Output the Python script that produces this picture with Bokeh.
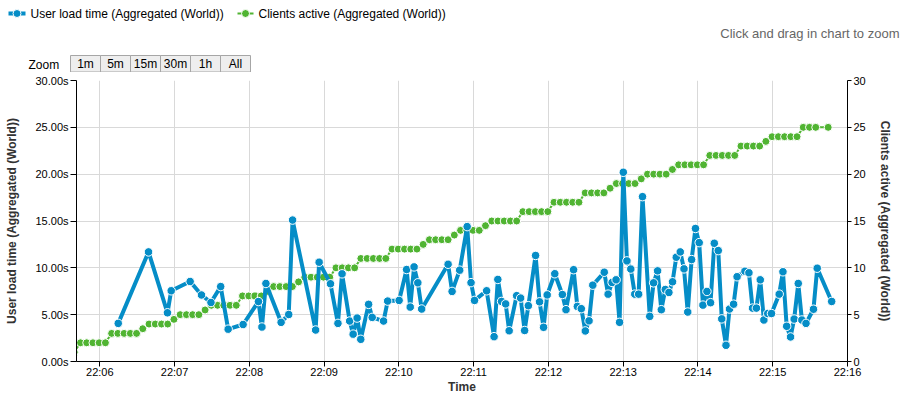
import pandas as pd
from bokeh.plotting import figure
from bokeh.layouts import column
from bokeh.models import (Range1d, LinearAxis, PrintfTickFormatter, DatetimeTickFormatter,
                          SingleIntervalTicker, FixedTicker, ColumnDataSource)
from bokeh.core.properties import value
from bokeh.embed import file_html
from bokeh.resources import INLINE

# ---------------- data ----------------
DAY = "2013-05-14 "

load_times = [
    "22:06:14.8", "22:06:39.1", "22:06:54.3", "22:06:57.3", "22:07:12.5", "22:07:21.6",
    "22:07:29.2", "22:07:37.0", "22:07:43.0", "22:07:55.0", "22:08:07.3", "22:08:10.1",
    "22:08:13.3", "22:08:25.5", "22:08:31.6", "22:08:34.7", "22:08:53.2", "22:08:56.0",
    "22:09:05.1", "22:09:11.1", "22:09:14.4", "22:09:20.5", "22:09:23.3", "22:09:26.5",
    "22:09:29.4", "22:09:35.7", "22:09:38.6", "22:09:47.7", "22:09:51.0", "22:10:00.2",
    "22:10:06.2", "22:10:09.1", "22:10:12.2", "22:10:15.2", "22:10:18.3", "22:10:39.5",
    "22:10:42.7", "22:10:48.8", "22:10:54.8", "22:10:57.9", "22:11:00.7", "22:11:10.4",
    "22:11:16.4", "22:11:19.4", "22:11:22.4", "22:11:25.7", "22:11:28.5", "22:11:34.5",
    "22:11:37.7", "22:11:40.9", "22:11:43.9", "22:11:49.7", "22:11:52.9", "22:11:56.1",
    "22:11:59.0", "22:12:05.1", "22:12:11.2", "22:12:14.1", "22:12:20.2", "22:12:23.2",
    "22:12:26.4", "22:12:29.6", "22:12:32.6", "22:12:35.6", "22:12:44.8", "22:12:47.9",
    "22:12:51.1", "22:12:54.3", "22:12:57.1", "22:13:00.1", "22:13:03.0", "22:13:06.1",
    "22:13:09.3", "22:13:12.4", "22:13:15.5", "22:13:21.3", "22:13:24.4", "22:13:27.6",
    "22:13:30.6", "22:13:33.8", "22:13:36.7", "22:13:39.6", "22:13:42.6", "22:13:45.8",
    "22:13:48.8", "22:13:51.8", "22:13:54.9", "22:13:58.0", "22:14:01.0", "22:14:04.0",
    "22:14:07.2", "22:14:10.1", "22:14:13.1", "22:14:16.3", "22:14:19.1", "22:14:22.5",
    "22:14:25.3", "22:14:28.6", "22:14:31.4", "22:14:37.7", "22:14:40.9", "22:14:43.8",
    "22:14:46.9", "22:14:50.0", "22:14:52.9", "22:14:56.0", "22:14:59.0", "22:15:05.2",
    "22:15:08.2", "22:15:11.2", "22:15:14.3", "22:15:17.2", "22:15:20.5", "22:15:23.4",
    "22:15:26.7", "22:15:32.7", "22:15:35.7", "22:15:47.3",
]
load_values = [
    4.07, 11.7, 5.2, 7.55, 8.54, 7.1,
    6.3, 8.0, 3.45, 3.95, 6.4, 3.68,
    8.33, 4.18, 5.02, 15.1, 3.36, 10.6,
    8.3, 4.07, 9.36, 4.32, 2.92, 4.64,
    2.37, 6.1, 4.71, 4.32, 6.45, 6.52,
    9.82, 5.81, 10.1, 8.4, 5.6, 10.38,
    7.48, 9.75, 14.4, 8.42, 6.52, 7.55,
    2.65, 8.76, 6.41, 6.15, 3.28, 7.03,
    6.77, 3.31, 5.96, 11.32, 6.37, 3.65,
    7.11, 9.37, 7.15, 5.53, 9.8, 5.88,
    5.64, 3.26, 4.34, 8.15, 9.53, 7.19,
    8.44, 8.72, 4.18, 20.2, 10.74, 9.87,
    7.19, 7.19, 17.6, 4.82, 8.4, 9.68,
    5.53, 7.69, 7.37, 8.51, 11.13, 11.7,
    9.89, 5.28, 10.88, 14.2, 12.69, 6.02,
    7.48, 6.28, 12.62, 11.84, 4.55, 1.73,
    5.6, 6.12, 9.05, 9.64, 9.47, 5.7,
    5.7, 8.72, 4.43, 5.12, 5.12, 7.19,
    9.58, 3.76, 2.62, 4.53, 8.33, 4.43,
    4.07, 5.58, 9.96, 6.41,
]

# clients active: sampled every 5 seconds (None = missing sample)
clients_start = "22:05:39.5"
clients_step = "5s"
clients_values = [
    1,
    2, 2, 2, 2, 2,
    3, 3, 3, 3, 3, 3.5,
    4, 4, 4, 4, 4.5,
    5, 5, 5, 5, 5.5,
    6, 6, 6, 6, 6,
    7, 7, 7, 7, 7.5,
    8, 8, 8, 8, 8.5,
    9, 9, 9, 9, 9,
    10, 10, 10, 10,
    11, 11, 11, 11, 11,
    12, 12, 12, 12, 12, 12.5,
    13, 13, 13, 13, 13.5,
    14, 14, 14, 14, 14.5,
    15, 15, 15, 15, 15,
    16, 16, 16, 16, 16,
    17, 17, 17, 17, 17,
    18, 18, 18, 18, 18.5,
    19, 19, 19, 19, 19.5,
    20, 20, 20, 20, 20.5,
    21, 21, 21, 21, 21,
    22, 22, 22, 22, 22,
    23, 23, 23, 23, 23.5,
    24, 24, 24, 24, 24,
    25, 25, 25, None, 25,
]

x_start = "22:05:41.3"
x_end = "22:16:00"
y_ticks = [0, 5, 10, 15, 20, 25, 30]
range_buttons = ["1m", "5m", "15m", "30m", "1h", "All"]

load_label = "User load time (Aggregated (World))"
clients_label = "Clients active (Aggregated (World))"
subtitle = "Click and drag in chart to zoom"

# ---------------- style ----------------
FONT = "Liberation Sans"
BLUE = "#058DC7"
GREEN = "#50B432"
GRID = "#d9d9d9"
W = 909
HDR_H = 72


def no_frame_align(fig):
    try:
        fig.frame_align = False
    except Exception:
        pass


# ---------------- header (legend, subtitle, range selector) ----------------
hdr = figure(width=W, height=HDR_H, x_range=Range1d(0, W), y_range=Range1d(HDR_H, 0),
             x_axis_type=None, y_axis_type=None, output_backend="svg",
             toolbar_location=None, min_border_left=0, min_border_right=0,
             min_border_top=0, min_border_bottom=0)
hdr.outline_line_color = None
hdr.background_fill_color = "white"
hdr.border_fill_color = "white"
no_frame_align(hdr)

txt = dict(text_font=value(FONT), text_font_size="12px", text_baseline="middle")
# legend
hdr.line([8, 25], [13, 13], line_color=BLUE, line_width=4)
hdr.scatter([16.5], [13], size=8, fill_color=BLUE, line_color="white", line_width=1)
hdr.text([30], [13], text=[load_label], text_align="left", text_color="black", **txt)
hdr.line([237, 253], [13, 13], line_color=GREEN, line_width=2)
hdr.scatter([245], [13], size=8, fill_color=GREEN, line_color="white", line_width=1)
hdr.text([258], [13], text=[clients_label], text_align="left", text_color="black", **txt)
# subtitle
hdr.text([899], [33], text=[subtitle], text_align="right", text_color="#666666",
         text_font=value(FONT), text_font_size="13px", text_baseline="middle")
# range selector
hdr.text([28], [64], text=["Zoom"], text_align="left", text_color="black", **txt)
b_left = [70 + 30 * k for k in range(len(range_buttons))]
hdr.quad(left=b_left, right=[b + 30 for b in b_left], top=[55] * len(b_left),
         bottom=[71.5] * len(b_left), fill_color="#eeeeee", line_color="#a6a6a6", line_width=1)
hdr.text([b + 15 for b in b_left], [63.5] * len(b_left), text=range_buttons,
         text_align="center", text_color="black", **txt)

# ---------------- main chart ----------------
load_t = pd.to_datetime([DAY + t for t in load_times])
src_load = ColumnDataSource(dict(t=load_t, v=load_values))

c_times = pd.date_range(pd.Timestamp(DAY + clients_start), periods=len(clients_values), freq=clients_step)
c_pairs = [(t, v) for t, v in zip(c_times, clients_values) if v is not None]
src_clients = ColumnDataSource(dict(t=[a for a, _ in c_pairs], v=[b for _, b in c_pairs]))

p = figure(width=W, height=399 - HDR_H, x_axis_type="datetime",
           output_backend="svg", toolbar_location=None,
           x_range=Range1d(pd.Timestamp(DAY + x_start), pd.Timestamp(DAY + x_end)),
           y_range=Range1d(0, 30),
           min_border_left=76, min_border_right=62, min_border_top=8, min_border_bottom=38)
p.extra_y_ranges = {"clients": Range1d(0, 30)}
p.outline_line_color = None
p.background_fill_color = "white"
p.border_fill_color = "white"
no_frame_align(p)

xa = p.xaxis[0]
xa.ticker = SingleIntervalTicker(interval=60000, num_minor_ticks=0)
fmt = "%H:%M"
xa.formatter = DatetimeTickFormatter(seconds=fmt, minsec=fmt, minutes=fmt, hourmin=fmt, hours=fmt)
xa.axis_label = "Time"
xa.major_tick_out = 5
xa.major_label_standoff = -1
xa.axis_label_standoff = -1

yl = p.yaxis[0]
yl.ticker = FixedTicker(ticks=y_ticks)
yl.formatter = PrintfTickFormatter(format="%.2fs")
yl.axis_label = load_label
yl.major_tick_out = 6
yl.major_label_standoff = 2
yl.axis_label_standoff = 13

yr = LinearAxis(y_range_name="clients", ticker=FixedTicker(ticks=y_ticks), axis_label=clients_label)
yr.major_tick_out = 4
yr.major_label_standoff = 2
yr.axis_label_standoff = 9
p.add_layout(yr, "right")

for ax in (xa, yl, yr):
    ax.axis_line_color = "black"
    ax.major_tick_line_color = "black"
    ax.minor_tick_line_color = None
    ax.major_tick_in = 0
    ax.major_label_text_font = FONT
    ax.major_label_text_font_size = "11px"
    ax.major_label_text_color = "black"
    ax.axis_label_text_font = FONT
    ax.axis_label_text_font_size = "12px"
    ax.axis_label_text_font_style = "bold"
    ax.axis_label_text_color = "#333333"

p.xgrid.grid_line_color = GRID
p.ygrid.grid_line_color = GRID
p.xgrid.ticker = xa.ticker
p.ygrid.ticker = yl.ticker

g_line = p.line("t", "v", source=src_clients, y_range_name="clients",
                line_color=GREEN, line_width=2)
g_dots = p.scatter("t", "v", source=src_clients, y_range_name="clients", size=8,
                   fill_color=GREEN, line_color="white", line_width=1)
b_line = p.line("t", "v", source=src_load, line_color=BLUE, line_width=4, line_join="round")
b_dots = p.scatter("t", "v", source=src_load, size=8.5,
                   fill_color=BLUE, line_color="white", line_width=1)

layout = column(hdr, p, spacing=0)
open("out.html", "w").write(file_html(layout, INLINE))
